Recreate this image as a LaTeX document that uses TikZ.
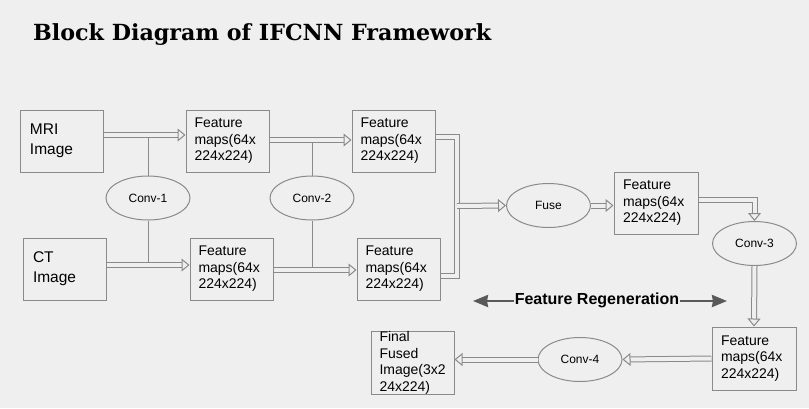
\documentclass[tikz,border=0pt]{standalone}
\usepackage{fontspec}
\usepackage{graphicx}
\setmainfont{Liberation Sans}
\newfontfamily\headfont{DejaVu Serif}
\usetikzlibrary{arrows.meta, positioning, shapes.geometric}
\definecolor{bgcol}{HTML}{EFEFEF}
\definecolor{edgecol}{HTML}{8A8A8A}
\definecolor{regencol}{HTML}{595959}

\begin{document}
\begin{tikzpicture}[
    x=1pt, y=-1pt,
    every node/.style={font=\fontsize{14}{16.5}\selectfont},
    inbox/.style ={draw=edgecol, line width=1pt, align=left, inner sep=0pt,
                   minimum width=83pt, minimum height=62pt, text width=63pt,
                   font=\fontsize{15.5}{20}\selectfont},
    fmap/.style  ={draw=edgecol, line width=1pt, align=left, inner sep=0pt,
                   minimum width=83pt, minimum height=62pt, text width=66pt},
    conv/.style  ={draw=edgecol, line width=1pt, ellipse, inner sep=0pt,
                   minimum width=84pt, minimum height=44pt,
                   font=\fontsize{12}{14}\selectfont},
    pipe/.style  ={draw=edgecol, line width=1pt, double=bgcol,
                   double distance=4pt},
    pipearrow/.style={pipe, -{Triangle[open, length=8pt, width=13pt]}},
    stem/.style  ={draw=edgecol, line width=1pt},
    regen/.style ={draw=regencol, line width=2.5pt,
                   {Stealth[length=15pt,width=12pt,inset=1pt]}-{Stealth[length=15pt,width=12pt,inset=1pt]}},
]
\fill[bgcol] (0,0) rectangle (809,408);
\useasboundingbox (0,0) rectangle (809,408);

% title
\node[anchor=base west, inner sep=0pt] (title) at (33,40)
     {\resizebox{458pt}{!}{\headfont\bfseries Block Diagram of IFCNN Framework}};

% inputs and first feature maps
\node[inbox] (mri)  at (61.5,141) {MRI\\Image};
\node[inbox] (ct)   at (64.5,269) {CT\\Image};
\node[fmap]  (fm1a) at (227.5,141) {Feature\\maps(64x\\224x224)};
\node[fmap]  (fm1b) at (231.5,269) {Feature\\maps(64x\\224x224)};
\node[fmap]  (fm2a) at (393.5,141) {Feature\\maps(64x\\224x224)};
\node[fmap]  (fm2b) at (398.5,269) {Feature\\maps(64x\\224x224)};
\node[conv]  (conv1) at (148,198) {Conv-1};
\node[conv]  (conv2) at (312,198) {Conv-2};

% fusion and regeneration
\node[conv]  (fuse)  at (548.5,205.5) {Fuse};
\node[fmap, minimum width=84pt]  (fm3) at (656,203) {Feature\\maps(64x\\224x224)};
\node[conv]  (conv3) at (754.5,243.5) {Conv-3};
\node[fmap, minimum width=84pt, minimum height=63pt] (fm4) at (754,358.5)
     {Feature\\maps(64x\\224x224)};
\node[conv]  (conv4) at (580,359.5) {Conv-4};
\node[fmap]  (final) at (412.5,363) {Final\\Fused\\Image(3x2\\24x224)};

% junction points
\coordinate (j1) at ([yshift=6pt]mri.east);
\coordinate (j2) at ([yshift=4pt]ct.east);
\coordinate (j3) at ([yshift=1pt]fm1a.east);
\coordinate (j4) at ([yshift=-1pt]fm1b.east);
\coordinate (merge) at (457,206);

% stems of the convolutions
\draw[stem] (conv1.north) -- (conv1.north |- j1);
\draw[stem] (conv1.south) -- (conv1.south |- j2);
\draw[stem] (conv2.north) -- (conv2.north |- j3);
\draw[stem] (conv2.south) -- (conv2.south |- j4);

% flow
\draw[pipearrow] (j1) -- (j1 -| fm1a.west);
\draw[pipearrow] (j2) -- (j2 -| fm1b.west);
\draw[pipearrow] (j3) -- (j3 -| fm2a.west);
\draw[pipearrow] (j4) -- (j4 -| fm2b.west);
\draw[pipe] ([yshift=4pt]fm2a.east) -| (merge);
\draw[pipe] ([yshift=-7pt]fm2b.east) -| (merge);
\draw[pipearrow] (merge) -- (fuse.west);
\draw[pipearrow] (fuse.east) -- (fuse.east -| fm3.west);
\draw[pipearrow] ([yshift=3pt]fm3.east) -| (conv3.north);
\draw[pipearrow] (conv3.south) -- (fm4.north);
\draw[pipearrow] (fm4.west) -- (conv4.east);
\draw[pipearrow] (conv4.west) -- (conv4.west -| final.east);

% feature regeneration
\coordinate (ra) at (473,301);
\coordinate (rb) at (727,301);
\draw[regen] (ra) -- (rb);
\node[fill=bgcol, inner sep=1pt, font=\bfseries\fontsize{16}{19}\selectfont]
     (regentext) at (597,300) {Feature Regeneration};
\end{tikzpicture}
\end{document}
